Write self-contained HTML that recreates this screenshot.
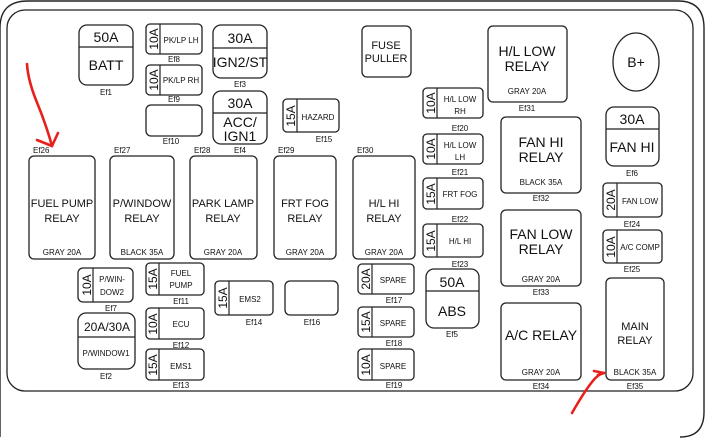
<!DOCTYPE html>
<html><head><meta charset="utf-8"><style>
html,body{margin:0;padding:0;background:#fff;width:706px;height:438px;overflow:hidden}
svg{display:block;overflow:hidden}
text{font-family:"Liberation Sans",Arial,sans-serif;fill:#111}
.b{fill:#fff;stroke:#222;stroke-width:1.3}
.l{stroke:#222;stroke-width:1.2}
.s{font-size:8px}
.m{font-size:9px}
.n{font-size:11px}
.g{font-size:14px}
.v{font-size:12px}
</style></head><body>
<svg width="706" height="438" viewBox="0 0 706 438" xmlns="http://www.w3.org/2000/svg">
<path d="M0,437 L0,28 Q0,1 28,1 L678,1 Q704,1 704,28 L704,412 Q704,437 680,437" fill="none" stroke="#222" stroke-width="1.4"/>
<rect x="7" y="10" width="686" height="381" rx="18" fill="none" stroke="#222" stroke-width="1.3"/>

<rect class="b" x="79" y="25" width="54" height="60" rx="8"/><line class="l" x1="79" y1="47" x2="133" y2="47"/>
<text class="g" x="106" y="42" text-anchor="middle">50A</text><text class="g" x="106" y="70" text-anchor="middle">BATT</text>
<text class="s" x="106" y="95" text-anchor="middle">Ef1</text>

<rect class="b" x="146" y="24" width="56" height="30" rx="4"/><line class="l" x1="160" y1="24" x2="160" y2="54"/>
<text class="v" transform="translate(158,39) rotate(-90)" text-anchor="middle">10A</text><text class="s" x="181" y="43" text-anchor="middle">PK/LP LH</text>
<text class="s" x="174" y="62" text-anchor="middle">Ef8</text>
<rect class="b" x="146" y="65" width="56" height="30" rx="4"/><line class="l" x1="160" y1="65" x2="160" y2="95"/>
<text class="v" transform="translate(158,80) rotate(-90)" text-anchor="middle">10A</text><text class="s" x="181" y="83" text-anchor="middle">PK/LP RH</text>
<text class="s" x="174" y="102" text-anchor="middle">Ef9</text>
<rect class="b" x="146" y="105" width="56" height="31" rx="5"/>
<text class="s" x="171" y="144" text-anchor="middle">Ef10</text>

<rect class="b" x="213" y="25" width="54" height="53" rx="8"/><line class="l" x1="213" y1="48" x2="267" y2="48"/>
<text class="g" x="240" y="43" text-anchor="middle">30A</text><text class="g" x="240" y="67" text-anchor="middle">IGN2/ST</text>
<text class="s" x="240" y="87" text-anchor="middle">Ef3</text>
<rect class="b" x="213" y="91" width="54" height="53" rx="8"/><line class="l" x1="213" y1="113" x2="267" y2="113"/>
<text class="g" x="240" y="108" text-anchor="middle">30A</text><text class="g" x="240" y="127" text-anchor="middle">ACC/</text><text class="g" x="240" y="141" text-anchor="middle">IGN1</text>
<text class="s" x="240" y="153" text-anchor="middle">Ef4</text>
<rect class="b" x="283" y="99" width="56" height="33" rx="4"/><line class="l" x1="297" y1="99" x2="297" y2="132"/>
<text class="v" transform="translate(295,116) rotate(-90)" text-anchor="middle">15A</text><text class="s" x="318" y="120" text-anchor="middle">HAZARD</text>
<text class="s" x="324" y="142" text-anchor="middle">Ef15</text>

<text class="s" x="33" y="153">Ef26</text>
<rect class="b" x="29" y="156" width="66" height="103" rx="5"/>
<text class="n" x="62" y="207" text-anchor="middle">FUEL PUMP</text><text class="n" x="62" y="222" text-anchor="middle">RELAY</text><text class="s" x="62" y="255" text-anchor="middle">GRAY 20A</text>
<text class="s" x="114" y="153">Ef27</text>
<rect class="b" x="110" y="156" width="64" height="103" rx="5"/>
<text class="n" x="142" y="207" text-anchor="middle">P/WINDOW</text><text class="n" x="142" y="222" text-anchor="middle">RELAY</text><text class="s" x="142" y="255" text-anchor="middle">BLACK 35A</text>
<text class="s" x="194" y="153">Ef28</text>
<rect class="b" x="190" y="156" width="67" height="103" rx="5"/>
<text class="n" x="223" y="207" text-anchor="middle">PARK LAMP</text><text class="n" x="223" y="222" text-anchor="middle">RELAY</text><text class="s" x="223" y="255" text-anchor="middle">GRAY 20A</text>
<text class="s" x="278" y="153">Ef29</text>
<rect class="b" x="274" y="156" width="62" height="103" rx="5"/>
<text class="n" x="305" y="207" text-anchor="middle">FRT FOG</text><text class="n" x="305" y="222" text-anchor="middle">RELAY</text><text class="s" x="305" y="255" text-anchor="middle">GRAY 20A</text>
<text class="s" x="357" y="153">Ef30</text>
<rect class="b" x="353" y="156" width="62" height="103" rx="5"/>
<text class="n" x="384" y="207" text-anchor="middle">H/L HI</text><text class="n" x="384" y="222" text-anchor="middle">RELAY</text><text class="s" x="384" y="255" text-anchor="middle">GRAY 20A</text>

<rect class="b" x="362" y="26" width="49" height="51" rx="5"/>
<text class="n" x="386" y="49" text-anchor="middle">FUSE</text><text class="n" x="386" y="62" text-anchor="middle">PULLER</text>

<rect class="b" x="488" y="26" width="79" height="76" rx="5"/>
<text class="g" x="527" y="56" text-anchor="middle">H/L LOW</text><text class="g" x="527" y="71" text-anchor="middle">RELAY</text><text class="s" x="527" y="94" text-anchor="middle">GRAY 20A</text>
<text class="s" x="527" y="111" text-anchor="middle">Ef31</text>
<ellipse cx="636" cy="62" rx="23" ry="29" fill="#fff" stroke="#222" stroke-width="1.3"/>
<text class="g" x="636" y="67" text-anchor="middle">B+</text>

<rect class="b" x="423" y="88" width="60" height="30" rx="4"/><line class="l" x1="437" y1="88" x2="437" y2="118"/>
<text class="v" transform="translate(435,103) rotate(-90)" text-anchor="middle">10A</text><text class="s" x="460" y="102" text-anchor="middle">H/L LOW</text><text class="s" x="460" y="114" text-anchor="middle">RH</text>
<text class="s" x="460" y="131" text-anchor="middle">Ef20</text>
<rect class="b" x="423" y="134" width="60" height="30" rx="4"/><line class="l" x1="437" y1="134" x2="437" y2="164"/>
<text class="v" transform="translate(435,149) rotate(-90)" text-anchor="middle">10A</text><text class="s" x="460" y="148" text-anchor="middle">H/L LOW</text><text class="s" x="460" y="160" text-anchor="middle">LH</text>
<text class="s" x="460" y="175" text-anchor="middle">Ef21</text>
<rect class="b" x="423" y="178" width="60" height="31" rx="4"/><line class="l" x1="437" y1="178" x2="437" y2="209"/>
<text class="v" transform="translate(435,194) rotate(-90)" text-anchor="middle">15A</text><text class="s" x="460" y="197" text-anchor="middle">FRT FOG</text>
<text class="s" x="460" y="222" text-anchor="middle">Ef22</text>
<rect class="b" x="423" y="224" width="60" height="33" rx="4"/><line class="l" x1="437" y1="224" x2="437" y2="257"/>
<text class="v" transform="translate(435,241) rotate(-90)" text-anchor="middle">15A</text><text class="s" x="460" y="244" text-anchor="middle">H/L HI</text>
<text class="s" x="460" y="267" text-anchor="middle">Ef23</text>

<rect class="b" x="501" y="117" width="80" height="76" rx="5"/>
<text class="g" x="541" y="147" text-anchor="middle">FAN HI</text><text class="g" x="541" y="162" text-anchor="middle">RELAY</text><text class="s" x="541" y="185" text-anchor="middle">BLACK 35A</text>
<text class="s" x="541" y="201" text-anchor="middle">Ef32</text>
<rect class="b" x="501" y="210" width="80" height="76" rx="5"/>
<text class="g" x="541" y="239" text-anchor="middle">FAN LOW</text><text class="g" x="541" y="254" text-anchor="middle">RELAY</text><text class="s" x="541" y="282" text-anchor="middle">GRAY 20A</text>
<text class="s" x="541" y="295" text-anchor="middle">Ef33</text>
<rect class="b" x="501" y="303" width="80" height="77" rx="5"/>
<text class="g" x="541" y="340" text-anchor="middle">A/C RELAY</text><text class="s" x="541" y="375" text-anchor="middle">GRAY 20A</text>
<text class="s" x="541" y="389" text-anchor="middle">Ef34</text>

<rect class="b" x="606" y="107" width="53" height="59" rx="8"/><line class="l" x1="606" y1="129" x2="659" y2="129"/>
<text class="g" x="632" y="124" text-anchor="middle">30A</text><text class="g" x="632" y="152" text-anchor="middle">FAN HI</text>
<text class="s" x="632" y="176" text-anchor="middle">Ef6</text>
<rect class="b" x="603" y="183" width="59" height="34" rx="4"/><line class="l" x1="617" y1="183" x2="617" y2="217"/>
<text class="v" transform="translate(615,200) rotate(-90)" text-anchor="middle">20A</text><text class="s" x="640" y="204" text-anchor="middle">FAN LOW</text>
<text class="s" x="632" y="227" text-anchor="middle">Ef24</text>
<rect class="b" x="603" y="230" width="59" height="33" rx="4"/><line class="l" x1="617" y1="230" x2="617" y2="263"/>
<text class="v" transform="translate(615,247) rotate(-90)" text-anchor="middle">10A</text><text class="s" x="640" y="250" text-anchor="middle">A/C COMP</text>
<text class="s" x="632" y="272" text-anchor="middle">Ef25</text>
<rect class="b" x="606" y="278" width="58" height="102" rx="5"/>
<text class="n" x="635" y="330" text-anchor="middle">MAIN</text><text class="n" x="635" y="344" text-anchor="middle">RELAY</text><text class="s" x="635" y="375" text-anchor="middle">BLACK 35A</text>
<text class="s" x="635" y="389" text-anchor="middle">Ef35</text>

<rect class="b" x="426" y="269" width="53" height="59" rx="8"/><line class="l" x1="426" y1="291" x2="479" y2="291"/>
<text class="g" x="452" y="287" text-anchor="middle">50A</text><text class="g" x="452" y="316" text-anchor="middle">ABS</text>
<text class="s" x="452" y="337" text-anchor="middle">Ef5</text>

<rect class="b" x="358" y="264" width="56" height="30" rx="4"/><line class="l" x1="372" y1="264" x2="372" y2="294"/>
<text class="v" transform="translate(370,279) rotate(-90)" text-anchor="middle">20A</text><text class="s" x="393" y="283" text-anchor="middle">SPARE</text>
<text class="s" x="394" y="303" text-anchor="middle">Ef17</text>
<rect class="b" x="358" y="307" width="56" height="30" rx="4"/><line class="l" x1="372" y1="307" x2="372" y2="337"/>
<text class="v" transform="translate(370,322) rotate(-90)" text-anchor="middle">15A</text><text class="s" x="393" y="326" text-anchor="middle">SPARE</text>
<text class="s" x="394" y="346" text-anchor="middle">Ef18</text>
<rect class="b" x="358" y="349" width="56" height="31" rx="4"/><line class="l" x1="372" y1="349" x2="372" y2="380"/>
<text class="v" transform="translate(370,365) rotate(-90)" text-anchor="middle">10A</text><text class="s" x="393" y="369" text-anchor="middle">SPARE</text>
<text class="s" x="394" y="388" text-anchor="middle">Ef19</text>

<rect class="b" x="78" y="268" width="55" height="34" rx="5"/><line class="l" x1="93" y1="268" x2="93" y2="302"/>
<text class="v" transform="translate(91,285) rotate(-90)" text-anchor="middle">10A</text><text class="s" x="112" y="282" text-anchor="middle">P/WIN-</text><text class="s" x="112" y="295" text-anchor="middle">DOW2</text>
<text class="s" x="111" y="311" text-anchor="middle">Ef7</text>
<rect class="b" x="78" y="313" width="57" height="56" rx="8"/><line class="l" x1="78" y1="337" x2="135" y2="337"/>
<text class="v" x="107" y="331" text-anchor="middle">20A/30A</text><text class="s" x="106" y="356" text-anchor="middle">P/WINDOW1</text>
<text class="s" x="106" y="379" text-anchor="middle">Ef2</text>

<rect class="b" x="146" y="263" width="58" height="32" rx="4"/><line class="l" x1="159" y1="263" x2="159" y2="295"/>
<text class="v" transform="translate(157,279) rotate(-90)" text-anchor="middle">15A</text><text class="s" x="181" y="276" text-anchor="middle">FUEL</text><text class="s" x="181" y="288" text-anchor="middle">PUMP</text>
<text class="s" x="181" y="304" text-anchor="middle">Ef11</text>
<rect class="b" x="146" y="308" width="58" height="31" rx="4"/><line class="l" x1="159" y1="308" x2="159" y2="339"/>
<text class="v" transform="translate(157,324) rotate(-90)" text-anchor="middle">10A</text><text class="s" x="181" y="327" text-anchor="middle">ECU</text>
<text class="s" x="181" y="348" text-anchor="middle">Ef12</text>
<rect class="b" x="146" y="349" width="58" height="31" rx="4"/><line class="l" x1="159" y1="349" x2="159" y2="380"/>
<text class="v" transform="translate(157,365) rotate(-90)" text-anchor="middle">15A</text><text class="s" x="181" y="369" text-anchor="middle">EMS1</text>
<text class="s" x="181" y="388" text-anchor="middle">Ef13</text>

<rect class="b" x="215" y="281" width="58" height="34" rx="4"/><line class="l" x1="229" y1="281" x2="229" y2="315"/>
<text class="v" transform="translate(227,298) rotate(-90)" text-anchor="middle">15A</text><text class="s" x="250" y="302" text-anchor="middle">EMS2</text>
<text class="s" x="254" y="325" text-anchor="middle">Ef14</text>
<rect class="b" x="285" y="281" width="53" height="34" rx="5"/>
<text class="s" x="312" y="325" text-anchor="middle">Ef16</text>

<g fill="none" stroke="#e8201c" stroke-width="2.6" stroke-linecap="round" stroke-linejoin="round">
<path d="M27,64 Q28,80 36,100 Q46,124 52,146"/>
<path d="M37,140 L52,146 L58,133"/>
<path d="M572,413 Q584,392 592,382 Q598,374 604,373"/>
<path d="M594,371 L604,373 L598,375"/>
</g>
</svg>
</body></html>
